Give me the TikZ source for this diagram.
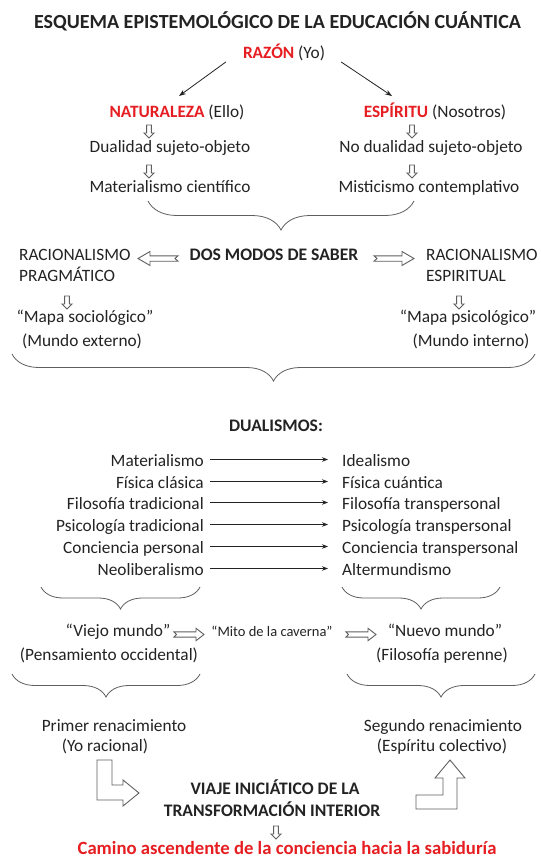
\documentclass[tikz,border=0pt]{standalone}
\usepackage{fontspec}
\setmainfont{Carlito}
\usetikzlibrary{arrows.meta,decorations.pathreplacing,calc}
\definecolor{txt}{RGB}{35,35,35}
\definecolor{redt}{RGB}{230,30,34}
\definecolor{ol}{RGB}{95,95,95}
\begin{document}
\begin{tikzpicture}[x=1pt,y=-1pt,
  every node/.style={inner sep=0pt,text=txt,font=\fontsize{17.3}{21}\selectfont,yshift=-3.5pt},
  lbl/.style={anchor=mid},
  lw/.style={anchor=mid west},
  le/.style={anchor=mid east},
  hd/.style={font=\fontsize{17.6}{21}\selectfont\bfseries},
  rd/.style={text=redt},
  brc/.style={decorate,decoration={brace,mirror,amplitude=#1},line width=0.8pt,draw=ol},
  thin/.style={line width=0.8pt,draw=txt,-{Stealth[length=7pt,width=5pt]}},
  outl/.style={line width=0.9pt,draw=ol,line join=miter},
  pics/vsm/.style={code={\draw[outl] (-2.4,-6.5) -- (2.4,-6.5) -- (2.4,1.5) -- (5,1.5) -- (0,6.5) -- (-5,1.5) -- (-2.4,1.5) -- cycle;}},
  pics/hbig/.style={code={\draw[outl] (-20,-2.7) -- (8,-2.7) -- (8,-7) -- (20,0) -- (8,7) -- (8,2.7) -- (-20,2.7) -- (-17,0) -- cycle;}},
  pics/hsm/.style={code={\draw[outl] (-15,-2.6) -- (7,-2.6) -- (7,-6.2) -- (15,0) -- (7,6.2) -- (7,2.6) -- (-15,2.6) -- (-12.5,0) -- cycle;}}
]
\useasboundingbox (0,0) rectangle (541,863);
\fill[white] (0,0) rectangle (541,863);

% top part
\node[lbl,hd,font=\fontsize{20}{24}\selectfont\bfseries,yshift=-1.5pt] (title) at (277.5,21) {ESQUEMA EPISTEMOLÓGICO DE LA EDUCACIÓN CUÁNTICA};
\node[lbl] (razon) at (284,53) {{\color{redt}\bfseries RAZÓN} (Yo)};
\node[lbl] (nat) at (177,112) {{\color{redt}\bfseries NATURALEZA} (Ello)};
\node[lbl] (esp) at (435,112) {{\color{redt}\bfseries ESPÍRITU} (Nosotros)};
\draw[thin] ($(razon.mid west)+(-17,5.5)$) -- ($(nat.mid)+(2,-19.5)$);
\draw[thin] ($(razon.mid east)+(16,5.5)$) -- ($(esp.mid)+(-43,-19.5)$);

\node[lbl] (dual) at (170,147) {Dualidad sujeto-objeto};
\node[lbl] (nodual) at (431,147) {No dualidad sujeto-objeto};
\node[lbl] (mat) at (170,187) {Materialismo científico};
\node[lbl] (mist) at (429,187) {Misticismo contemplativo};
\pic at (149,128) {vsm};
\pic at (412,128) {vsm};
\pic at (149,168) {vsm};
\pic at (412,168) {vsm};
\draw[brc=29] (148,201) -- (414,201);

% dos modos
\node[lw] (racL1) at (19,255) {RACIONALISMO};
\node[lw] (racL2) at (19,276) {PRAGMÁTICO};
\node[lbl,hd] (dos) at (274,255) {DOS MODOS DE SABER};
\node[lw] (racR1) at (426,255) {RACIONALISMO};
\node[lw] (racR2) at (426,276) {ESPIRITUAL};
\pic[rotate=180] at (158,255) {hbig};
\pic at (394,255) {hbig};
\pic at (67,299) {vsm};
\pic at (459,299) {vsm};
\node[lbl] (mapaS) at (85,317) {“Mapa sociológico”};
\node[lbl] (mundoE) at (82,341) {(Mundo externo)};
\node[lbl] (mapaP) at (468,317) {“Mapa psicológico”};
\node[lbl] (mundoI) at (471,341) {(Mundo interno)};
\draw[brc=27] (12,354) -- (535,354);

% dualismos
\node[lbl,hd] (dualis) at (276,426) {DUALISMOS:};
\foreach \i/\l/\r/\yy in {1/Materialismo/Idealismo/461,
  2/Física clásica/Física cuántica/483,
  3/Filosofía tradicional/Filosofía transpersonal/504,
  4/Psicología tradicional/Psicología transpersonal/526,
  5/Conciencia personal/Conciencia transpersonal/548,
  6/Neoliberalismo/Altermundismo/570}{
  \node[le] (L\i) at (204,\yy) {\l};
  \node[lw] (R\i) at (342,\yy) {\r};
  \draw[thin,-{Stealth[length=6pt,width=4.5pt]}] ($(L\i.mid east)+(6,-5)$) -- ($(R\i.mid west)+(-14,-5)$);
}
\draw[brc=22] (41,587) -- (200,587);
\draw[brc=22] (342,587) -- (500,587);

% mundos
\node[lbl] (viejo) at (118,631) {“Viejo mundo”};
\node[lbl,font=\fontsize{14.5}{17}\selectfont] (mito) at (272,631) {“Mito de la caverna”};
\node[lbl] (nuevo) at (445,631) {“Nuevo mundo”};
\pic at (189,631) {hsm};
\pic at (361,631) {hsm};
\node[lbl] (pens) at (109,655) {(Pensamiento occidental)};
\node[lbl] (filo) at (442,655) {(Filosofía perenne)};
\draw[brc=23] (12,674) -- (200,674);
\draw[brc=23] (347,674) -- (535,674);

% renacimientos
\node[lbl] (primer) at (114,726) {Primer renacimiento};
\node[lbl] (yo) at (105,746) {(Yo racional)};
\node[lbl] (segundo) at (443,726) {Segundo renacimiento};
\node[lbl] (espc) at (442,746) {(Espíritu colectivo)};
\draw[outl] (97,760) -- (112,760) -- (112,785) -- (123,785) -- (123,780) -- (139,793) -- (123,806) -- (123,800) -- (97,800) -- cycle;
\draw[outl] (416,795) -- (443,795) -- (443,778) -- (435,778) -- (450,760) -- (465,778) -- (457,778) -- (457,809) -- (416,809) -- cycle;
\node[lbl,hd,yshift=-1.5pt] (viaje) at (275,787) {VIAJE INICIÁTICO DE LA};
\node[lbl,hd,yshift=-1.5pt] (transf) at (272,809) {TRANSFORMACIÓN INTERIOR};
\pic at (276,829) {vsm};
\node[lbl,hd,rd,font=\fontsize{18.7}{22}\selectfont\bfseries] (camino) at (287,849) {Camino ascendente de la conciencia hacia la sabiduría};
\end{tikzpicture}
\end{document}
